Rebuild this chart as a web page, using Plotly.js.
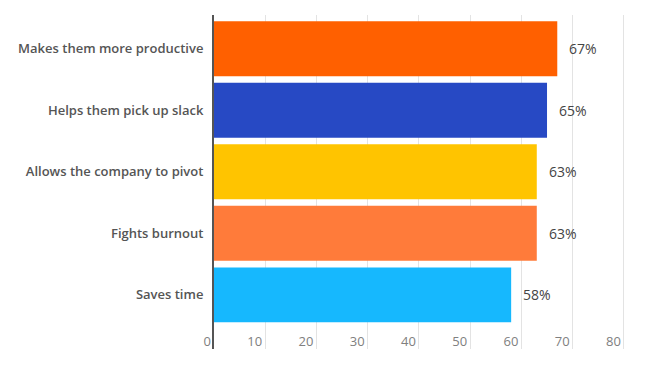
<!DOCTYPE html>
<html><head><meta charset="utf-8">
<script src="https://cdn.plot.ly/plotly-3.0.1.min.js"></script>
<style>html,body{margin:0;padding:0;background:#fff}</style>
</head><body>
<div id="chart" style="width:662px;height:386px"></div>
<script>
var categories = ["Makes them more productive","Helps them pick up slack","Allows the company to pivot","Fights burnout","Saves time"];
var values = [67, 65, 63, 63, 58];
var barColors = ["#FF6000","#2749C4","#FFC400","#FF7B3A","#16B8FE"];
var tickVals = [0,10,20,30,40,50,60,70,80];
var tickText = ["0","10","20","30","40","50","60","70","80"];

var trace = {
  type: "bar", orientation: "h",
  x: values, y: categories,
  marker: {color: barColors},
  hoverinfo: "none"
};
var annotations = values.map(function(v,i){
  return {x: v, y: categories[i], xref:"x", yref:"y", text: v + "%", showarrow:false,
    xanchor:"left", xshift: 10, font:{family:"Open Sans", size:14, color:"#444"}};
});
var layout = {
  width:662, height:386,
  margin:{l:214, r:32.5, t:15, b:37},
  paper_bgcolor:"#fff", plot_bgcolor:"#fff",
  showlegend:false,
  bargap:0.106,
  xaxis:{range:[0,81], tickvals:tickVals, ticktext:tickText, showgrid:true, gridcolor:"#e3e3e3", gridwidth:1,
    zeroline:false, showline:false, ticks:"", ticklabelposition:"inside left", ticklabeloverflow:"allow",
    ticklabelstandoff:-6, ticklabelshift:-3,
    tickfont:{family:"Open Sans", size:13, color:"#808080"}},
  yaxis:{type:"category", categoryorder:"array", categoryarray:categories, range:[4.88,-0.55],
    showline:true, linecolor:"#555", linewidth:2, ticks:"", showgrid:false, zeroline:false,
    ticklabelstandoff:6,
    tickfont:{family:"Open Sans", size:13, color:"#555", weight:600}},
  annotations: annotations
};
Plotly.newPlot("chart",[trace],layout,{displayModeBar:false, staticPlot:true});
</script>
</body></html>
